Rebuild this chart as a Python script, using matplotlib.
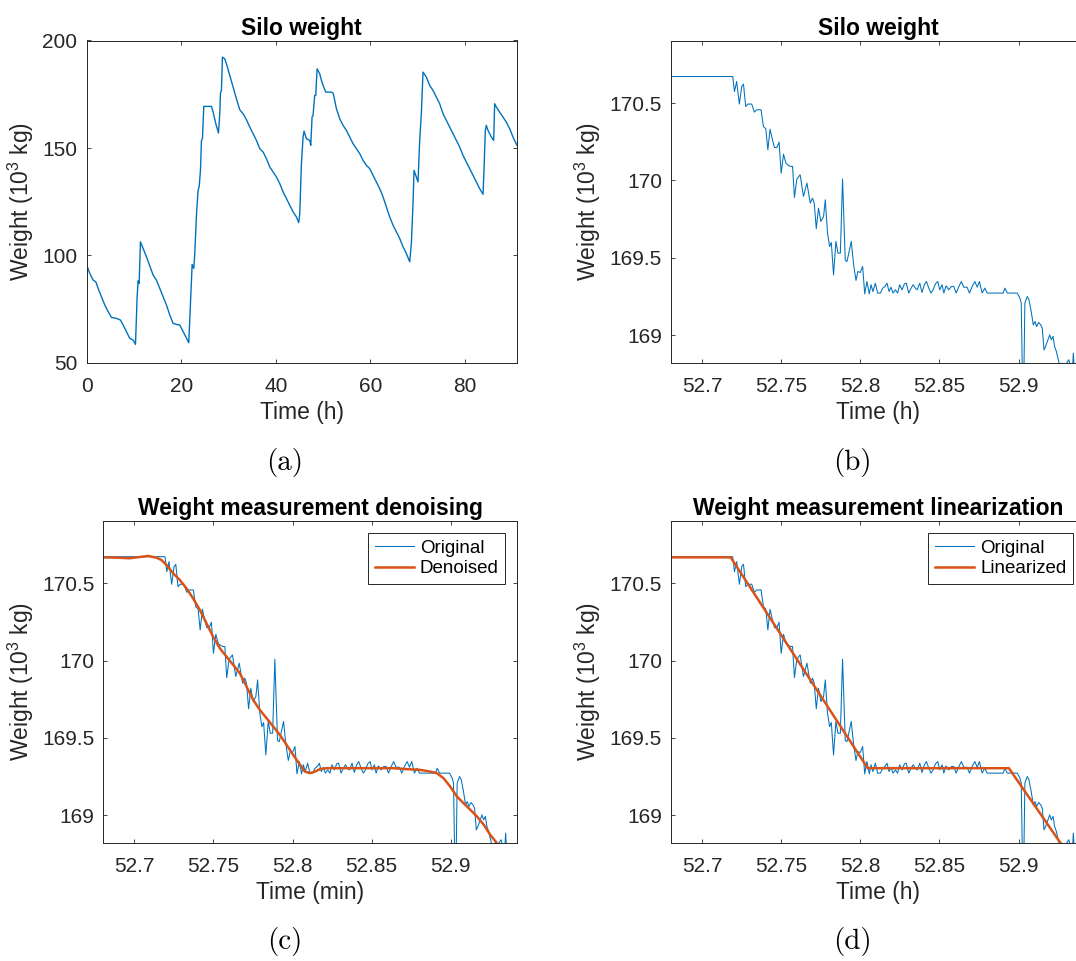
import numpy as np
import matplotlib.pyplot as plt
from matplotlib.ticker import FormatStrFormatter

plt.rcParams['font.family'] = ['Liberation Sans', 'DejaVu Sans']

# Silo weight over the whole run (hours, 10^3 kg)
t_a = [0.00, 0.70, 1.41, 1.97, 2.46, 3.17, 3.87, 4.58, 5.28, 6.34,
       7.18, 7.74, 8.45, 9.15, 9.86, 10.35, 10.70, 10.91, 11.12, 11.40,
       11.97, 12.67, 13.38, 14.08, 14.78, 15.49, 16.19, 16.90, 17.60, 18.30,
       19.01, 19.71, 20.42, 21.12, 21.61, 21.96, 22.32, 22.67, 22.88, 23.23,
       23.58, 23.80, 24.08, 24.29, 24.50, 24.78, 26.40, 26.75, 27.32, 27.88,
       28.16, 28.30, 28.51, 28.72, 29.22, 29.57, 30.27, 30.98, 31.68, 32.38,
       33.09, 33.79, 34.50, 35.20, 35.90, 36.61, 37.31, 38.02, 38.72, 39.42,
       40.13, 40.83, 41.54, 42.24, 42.94, 43.65, 44.35, 44.84, 45.06, 45.41,
       45.76, 45.97, 46.46, 47.17, 47.38, 47.66, 47.87, 48.22, 48.44, 48.72,
       49.28, 49.63, 50.12, 50.55, 51.74, 52.10, 52.45, 52.80, 53.50, 54.21,
       54.91, 55.62, 56.32, 57.02, 57.73, 58.43, 59.14, 59.84, 60.54, 61.25,
       61.95, 62.66, 63.36, 64.06, 64.77, 65.47, 66.18, 66.88, 67.58, 68.29,
       68.64, 68.99, 69.20, 69.70, 70.05, 70.40, 70.75, 71.10, 71.81, 72.51,
       73.22, 73.92, 74.62, 75.33, 76.03, 76.74, 77.44, 78.14, 78.85, 79.55,
       80.26, 80.96, 81.66, 82.37, 83.07, 83.78, 83.99, 84.27, 84.48, 84.83,
       85.54, 86.03, 86.24, 86.59, 87.30, 88.00, 88.70, 89.41, 90.11, 90.96]
w_a = [95.82, 91.64, 88.54, 87.77, 84.67, 80.80, 76.93, 73.84, 71.21, 70.74,
       69.97, 67.65, 64.55, 61.45, 60.68, 58.67, 80.80, 88.23, 86.99, 106.35,
       103.25, 99.38, 95.05, 90.87, 88.54, 84.67, 80.80, 76.93, 72.29, 68.42,
       67.96, 67.65, 64.55, 61.45, 59.44, 77.98, 95.82, 93.96, 100.93, 118.73,
       130.34, 131.89, 139.63, 153.56, 154.33, 169.35, 169.35, 166.72, 161.30, 156.97,
       165.94, 175.54, 176.78, 192.26, 191.49, 189.16, 183.75, 178.33, 172.91, 167.80,
       165.94, 163.16, 159.75, 156.66, 153.56, 149.69, 148.14, 145.05, 141.18, 138.85,
       136.53, 133.44, 129.57, 126.47, 123.37, 120.28, 117.96, 115.32, 119.50, 142.72,
       155.11, 157.89, 154.33, 153.56, 151.24, 164.40, 165.17, 174.46, 174.46, 186.84,
       184.52, 181.42, 178.33, 175.99, 175.99, 175.54, 172.14, 168.27, 163.62, 160.53,
       158.20, 155.11, 152.01, 149.69, 147.37, 144.27, 141.95, 140.40, 137.31, 134.21,
       131.11, 127.24, 122.60, 117.96, 114.09, 110.99, 107.89, 104.02, 100.93, 97.06,
       105.57, 124.15, 139.63, 136.53, 134.21, 153.56, 165.94, 185.29, 182.97, 179.10,
       176.78, 173.68, 170.59, 165.94, 162.85, 159.75, 156.66, 153.56, 150.46, 146.59,
       143.50, 140.40, 137.31, 134.21, 131.11, 128.48, 139.63, 158.20, 160.53, 158.20,
       155.11, 153.56, 170.59, 169.04, 166.72, 164.40, 162.07, 158.98, 155.11, 151.24]

# Raw measurement around t = 52.8 h
t_raw = [52.6804, 52.7194, 52.7205, 52.7219, 52.7236, 52.7251, 52.7262, 52.7276, 52.7289, 52.7314,
         52.7331, 52.7346, 52.7373, 52.7388, 52.7403, 52.7416, 52.7430, 52.7445, 52.7458, 52.7473,
         52.7487, 52.7500, 52.7515, 52.7530, 52.7546, 52.7561, 52.7572, 52.7584, 52.7599, 52.7620,
         52.7641, 52.7663, 52.7684, 52.7698, 52.7709, 52.7722, 52.7736, 52.7751, 52.7768, 52.7779,
         52.7793, 52.7806, 52.7817, 52.7831, 52.7846, 52.7859, 52.7874, 52.7888, 52.7905, 52.7916,
         52.7943, 52.7958, 52.7973, 52.7985, 52.8000, 52.8015, 52.8028, 52.8042, 52.8057, 52.8068,
         52.8080, 52.8095, 52.8110, 52.8127, 52.8142, 52.8156, 52.8169, 52.8182, 52.8194, 52.8207,
         52.8222, 52.8236, 52.8249, 52.8264, 52.8279, 52.8291, 52.8306, 52.8321, 52.8334, 52.8348,
         52.8359, 52.8376, 52.8390, 52.8405, 52.8418, 52.8433, 52.8447, 52.8460, 52.8475, 52.8490,
         52.8502, 52.8517, 52.8528, 52.8542, 52.8559, 52.8576, 52.8591, 52.8606, 52.8623, 52.8639,
         52.8654, 52.8675, 52.8690, 52.8707, 52.8724, 52.8739, 52.8753, 52.8770, 52.8787, 52.8802,
         52.8903, 52.8914, 52.8929, 52.8992, 52.9009, 52.9017, 52.9024, 52.9034, 52.9040, 52.9055,
         52.9066, 52.9080, 52.9093, 52.9104, 52.9114, 52.9127, 52.9140, 52.9150, 52.9161, 52.9171,
         52.9182, 52.9197, 52.9207, 52.9218, 52.9228, 52.9239, 52.9249, 52.9262, 52.9277, 52.9291,
         52.9304, 52.9317, 52.9329, 52.9342, 52.9346, 52.9351, 52.9361]
w_raw = [170.672, 170.672, 170.575, 170.640, 170.494, 170.608, 170.623, 170.478, 170.494, 170.494,
         170.442, 170.457, 170.457, 170.349, 170.334, 170.198, 170.332, 170.263, 170.213, 170.213,
         170.248, 170.047, 170.170, 170.112, 170.097, 170.091, 170.091, 169.890, 170.009, 170.037,
         169.897, 169.983, 169.854, 169.886, 169.854, 169.688, 169.821, 169.735, 169.767, 169.875,
         169.660, 169.573, 169.599, 169.390, 169.606, 169.530, 169.530, 170.009, 169.483, 169.476,
         169.606, 169.455, 169.354, 169.412, 169.405, 169.444, 169.267, 169.347, 169.267, 169.326,
         169.282, 169.336, 169.272, 169.272, 169.304, 169.315, 169.336, 169.282, 169.310, 169.272,
         169.293, 169.272, 169.326, 169.293, 169.332, 169.336, 169.272, 169.304, 169.326, 169.304,
         169.293, 169.336, 169.276, 169.326, 169.347, 169.304, 169.272, 169.293, 169.332, 169.347,
         169.293, 169.326, 169.272, 169.319, 169.293, 169.315, 169.315, 169.272, 169.315, 169.347,
         169.310, 169.310, 169.272, 169.315, 169.347, 169.310, 169.347, 169.272, 169.304, 169.272,
         169.272, 169.304, 169.272, 169.272, 169.239, 169.207, 168.754, 168.754, 169.207, 169.250,
         169.229, 169.153, 169.067, 169.088, 169.056, 169.082, 169.067, 169.045, 168.905, 168.927,
         168.959, 169.002, 168.970, 168.992, 168.927, 168.895, 168.851, 168.798, 168.819, 168.798,
         168.819, 168.841, 168.798, 168.798, 168.884, 168.798, 168.798]

# Denoised signal
t_den = [52.6802, 52.6886, 52.6970, 52.7034, 52.7087, 52.7139, 52.7171, 52.7203, 52.7245, 52.7287,
         52.7329, 52.7371, 52.7414, 52.7456, 52.7498, 52.7540, 52.7582, 52.7625, 52.7667, 52.7709,
         52.7751, 52.7793, 52.7836, 52.7878, 52.7920, 52.7962, 52.8004, 52.8047, 52.8078, 52.8110,
         52.8142, 52.8173, 52.8215, 52.8300, 52.8384, 52.8469, 52.8553, 52.8637, 52.8722, 52.8806,
         52.8870, 52.8912, 52.8954, 52.8996, 52.9038, 52.9080, 52.9123, 52.9165, 52.9208, 52.9249,
         52.9291, 52.9333]
w_den = [170.668, 170.666, 170.662, 170.670, 170.677, 170.666, 170.651, 170.619, 170.565, 170.522,
         170.468, 170.403, 170.328, 170.241, 170.155, 170.080, 170.026, 169.972, 169.918, 169.832,
         169.746, 169.681, 169.627, 169.573, 169.519, 169.455, 169.390, 169.326, 169.282, 169.272,
         169.282, 169.298, 169.304, 169.304, 169.304, 169.304, 169.304, 169.304, 169.298, 169.293,
         169.282, 169.272, 169.239, 169.185, 169.121, 169.078, 169.035, 168.992, 168.938, 168.873,
         168.819, 168.765]

# Piecewise linear fit
t_lin = [52.6804, 52.7181, 52.8047, 52.8939, 52.9361]
w_lin = [170.668, 170.668, 169.304, 169.304, 168.678]

x_zoom = (52.6804, 52.942)
y_zoom = (168.82, 170.905)

W, H = 1076, 961
fig = plt.figure(figsize=(W / 100, H / 100), dpi=100)
fig.patch.set_facecolor('white')

blue = '#0072BD'
orange = '#D95319'
grey = '#262626'


def px_axes(left, top, width, height):
    return fig.add_axes([left / W, 1 - (top + height) / H, width / W, height / H])


def style(ax, title, xlabel):
    ax.set_title(title, fontsize=16.5, fontweight='bold', pad=4)
    ax.set_xlabel(xlabel, fontsize=16.5, color=grey, labelpad=3.5)
    ax.set_ylabel(r'Weight (10$^\mathregular{3}$ kg)', fontsize=16.5, color=grey, labelpad=4.5)
    ax.tick_params(direction='in', length=3, width=0.6, top=True, right=True,
                   labelsize=15, colors=grey)
    ax.tick_params(axis='x', pad=10)
    ax.tick_params(axis='y', pad=6.5)
    for s in ax.spines.values():
        s.set_color(grey)
        s.set_linewidth(0.7)


def zoom_axes(ax):
    ax.set_xlim(*x_zoom)
    ax.set_ylim(*y_zoom)
    ax.set_xticks([52.7, 52.75, 52.8, 52.85, 52.9])
    ax.set_yticks([169, 169.5, 170, 170.5])
    ax.xaxis.set_major_formatter(FormatStrFormatter('%g'))
    ax.yaxis.set_major_formatter(FormatStrFormatter('%g'))


def legend(ax):
    leg = ax.legend(loc='upper right', fontsize=13.5, fancybox=False, framealpha=1,
                    edgecolor=grey, handlelength=2.1, handletextpad=0.3,
                    labelspacing=0.2, borderpad=0.35, borderaxespad=0.65)
    leg.get_frame().set_linewidth(0.7)


# (a) full run
ax = px_axes(86.5, 40.5, 430.5, 322.5)
ax.plot(t_a, w_a, color=blue, lw=1.0)
ax.set_xlim(0, 90.96)
ax.set_ylim(50, 200)
ax.set_xticks([0, 20, 40, 60, 80])
ax.set_yticks([50, 100, 150, 200])
style(ax, 'Silo weight', 'Time (h)')

# (b) zoom on one emptying phase
ax = px_axes(671, 40.5, 414, 322.5)
ax.plot(t_raw, w_raw, color=blue, lw=0.75)
zoom_axes(ax)
style(ax, 'Silo weight', 'Time (h)')

# (c) denoising
ax = px_axes(103.3, 520.7, 414, 322.3)
ax.plot(t_raw, w_raw, color=blue, lw=0.75, label='Original')
ax.plot(t_den, w_den, color=orange, lw=1.8, label='Denoised')
zoom_axes(ax)
style(ax, 'Weight measurement denoising', 'Time (min)')
legend(ax)

# (d) linearization
ax = px_axes(671, 520.7, 414, 322.3)
ax.plot(t_raw, w_raw, color=blue, lw=0.75, label='Original')
ax.plot(t_lin, w_lin, color=orange, lw=1.8, label='Linearized')
zoom_axes(ax)
style(ax, 'Weight measurement linearization', 'Time (h)')
legend(ax)

# subfigure captions
for x, y, s in [(285, 463, '(a)'), (852, 463, '(b)'), (285, 941, '(c)'), (852, 941, '(d)')]:
    fig.text(x / W, 1 - y / H, s, family='cmr10', fontsize=21, ha='center', va='center')

fig.savefig('out.png', dpi=100)
